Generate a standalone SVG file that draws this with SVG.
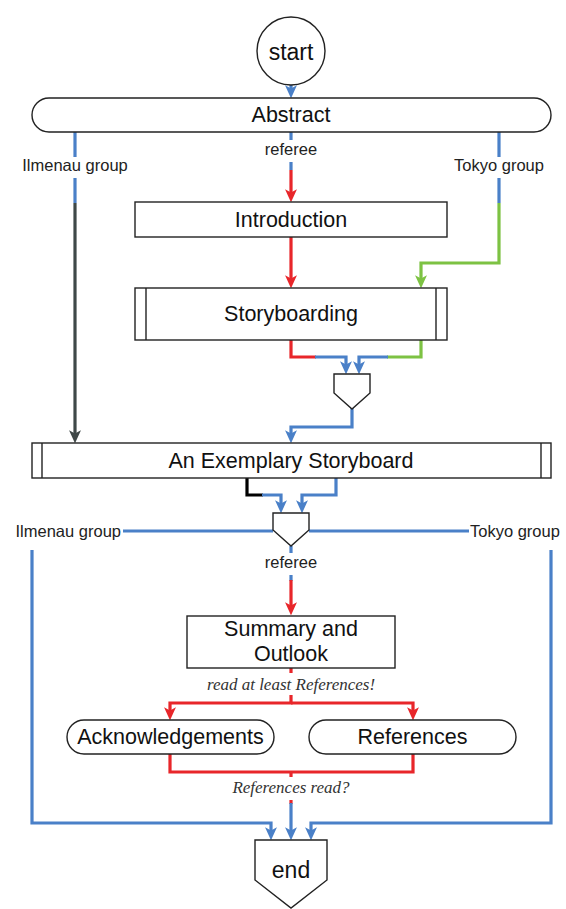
<svg xmlns="http://www.w3.org/2000/svg" width="566" height="909" viewBox="0 0 566 909">
<style>
.box{fill:#fff;stroke:#222;stroke-width:1.4}
.t{font-family:"Liberation Sans",Arial,sans-serif;font-size:21.5px;fill:#111;text-anchor:middle}
.big{font-size:23px}
.lbl{font-family:"Liberation Sans",Arial,sans-serif;font-size:16.5px;fill:#222;text-anchor:middle}
.it{font-family:"Liberation Serif","Times New Roman",serif;font-style:italic;font-size:17px;fill:#333;text-anchor:middle}
.c{fill:none;stroke-width:3.2;stroke-linejoin:miter}
.b{stroke:#4a80c8}
.r{stroke:#e8262a}
.g{stroke:#7dc243}
.d{stroke:#3f4848}
.k{stroke:#000}
</style>
<defs>
<marker id="ab" viewBox="0 0 12 12" markerWidth="13" markerHeight="13" refX="8" refY="6" orient="auto" markerUnits="userSpaceOnUse"><path d="M0,0.5 L12,6 L0,11.5 L3,6 z" fill="#4a80c8"/></marker>
<marker id="ar" viewBox="0 0 12 12" markerWidth="13" markerHeight="13" refX="8" refY="6" orient="auto" markerUnits="userSpaceOnUse"><path d="M0,0.5 L12,6 L0,11.5 L3,6 z" fill="#e8262a"/></marker>
<marker id="ag" viewBox="0 0 12 12" markerWidth="13" markerHeight="13" refX="8" refY="6" orient="auto" markerUnits="userSpaceOnUse"><path d="M0,0.5 L12,6 L0,11.5 L3,6 z" fill="#7dc243"/></marker>
<marker id="ad" viewBox="0 0 12 12" markerWidth="13" markerHeight="13" refX="8" refY="6" orient="auto" markerUnits="userSpaceOnUse"><path d="M0,0.5 L12,6 L0,11.5 L3,6 z" fill="#3f4848"/></marker>
</defs>
<rect width="566" height="909" fill="#fff"/>
<g id="connectors">
<path class="c b" d="M291,85 V94" marker-end="url(#ab)"/>
<path class="c b" d="M291,132 V140"/>
<path class="c b" d="M291,162 V170"/>
<path class="c r" d="M291,170 V198" marker-end="url(#ar)"/>
<text class="lbl" x="291" y="155">referee</text>
<path class="c r" d="M291,237 V284" marker-end="url(#ar)"/>
<path class="c b" d="M499,132 V157"/>
<path class="c b" d="M499,178 V203"/>
<path class="c g" d="M499,203 V263 H421 V284" marker-end="url(#ag)"/>
<text class="lbl" x="499" y="171">Tokyo group</text>
<path class="c b" d="M75,132 V157"/>
<path class="c b" d="M75,178 V203"/>
<path class="c d" d="M75,203 V439" marker-end="url(#ad)"/>
<text class="lbl" x="75" y="171">Ilmenau group</text>
<path class="c r" d="M291,340 V357 H316"/>
<path class="c b" d="M315,357 H346 V370" marker-end="url(#ab)"/>
<path class="c g" d="M421,340 V357 H387"/>
<path class="c b" d="M388,357 H359 V370" marker-end="url(#ab)"/>
<path class="c b" d="M352,408 V427 H291 V439" marker-end="url(#ab)"/>
<path class="c k" d="M247,478 V495 H263"/>
<path class="c b" d="M262,495 H281 V509" marker-end="url(#ab)"/>
<path class="c b" d="M336,478 V495 H302 V509" marker-end="url(#ab)"/>
<path class="c b" d="M123,531 H273"/>
<path class="c b" d="M309,531 H469"/>
<text class="lbl" x="121" y="537" style="text-anchor:end">Ilmenau group</text>
<text class="lbl" x="470" y="537" style="text-anchor:start">Tokyo group</text>
<path class="c b" d="M32,550 V823 H271 V836" marker-end="url(#ab)"/>
<path class="c b" d="M551,550 V823 H311 V836" marker-end="url(#ab)"/>
<path class="c b" d="M291,546 V553"/>
<path class="c b" d="M291,575 V581"/>
<path class="c r" d="M291,580 V611" marker-end="url(#ar)"/>
<text class="lbl" x="291" y="568">referee</text>
<path class="c r" d="M291,668 V673"/>
<path class="c r" d="M291,695 V703 H170 V716" marker-end="url(#ar)"/>
<path class="c r" d="M291,703 H413 V716" marker-end="url(#ar)"/>
<text class="it" x="291" y="690">read at least References!</text>
<path class="c r" d="M170,754 V772 H413 V754"/>
<path class="c r" d="M291,772 V777"/>
<path class="c r" d="M291,800 V804"/>
<path class="c b" d="M291,803 V836" marker-end="url(#ab)"/>
<text class="it" x="291" y="793">References read?</text>
</g>
<g id="start">
<circle class="box" cx="291" cy="51" r="34"/>
<text class="t big" x="291" y="60">start</text>
</g>
<g id="abstract">
<rect class="box" x="32" y="98" width="519" height="34" rx="17"/>
<text class="t" x="291" y="122">Abstract</text>
</g>
<g id="introduction">
<rect class="box" x="135" y="202" width="312" height="35"/>
<text class="t" x="291" y="227">Introduction</text>
</g>
<g id="storyboarding">
<rect class="box" x="135" y="288" width="312" height="52"/>
<line class="box" x1="146" y1="288" x2="146" y2="340"/>
<line class="box" x1="436" y1="288" x2="436" y2="340"/>
<text class="t" x="291" y="321">Storyboarding</text>
</g>
<g id="merge1">
<polygon class="box" points="334,374 370,374 370,393 352,409 334,393"/>
</g>
<g id="exemplary">
<rect class="box" x="32" y="443" width="519" height="35"/>
<line class="box" x1="42" y1="443" x2="42" y2="478"/>
<line class="box" x1="541" y1="443" x2="541" y2="478"/>
<text class="t" x="291" y="468">An Exemplary Storyboard</text>
</g>
<g id="merge2">
<polygon class="box" points="273,513 309,513 309,530 291,546 273,530"/>
</g>
<g id="summary">
<rect class="box" x="187" y="616" width="208" height="52"/>
<text class="t" x="291" y="636">Summary and</text>
<text class="t" x="291" y="661">Outlook</text>
</g>
<g id="acknowledgements">
<rect class="box" x="67" y="720" width="207" height="34" rx="17"/>
<text class="t" x="170.5" y="744">Acknowledgements</text>
</g>
<g id="references">
<rect class="box" x="309" y="720" width="207" height="34" rx="17"/>
<text class="t" x="412.5" y="744">References</text>
</g>
<g id="end">
<polygon class="box" points="255,840 327,840 327,880 291,908 255,880"/>
<text class="t big" x="291" y="878">end</text>
</g>
</svg>
